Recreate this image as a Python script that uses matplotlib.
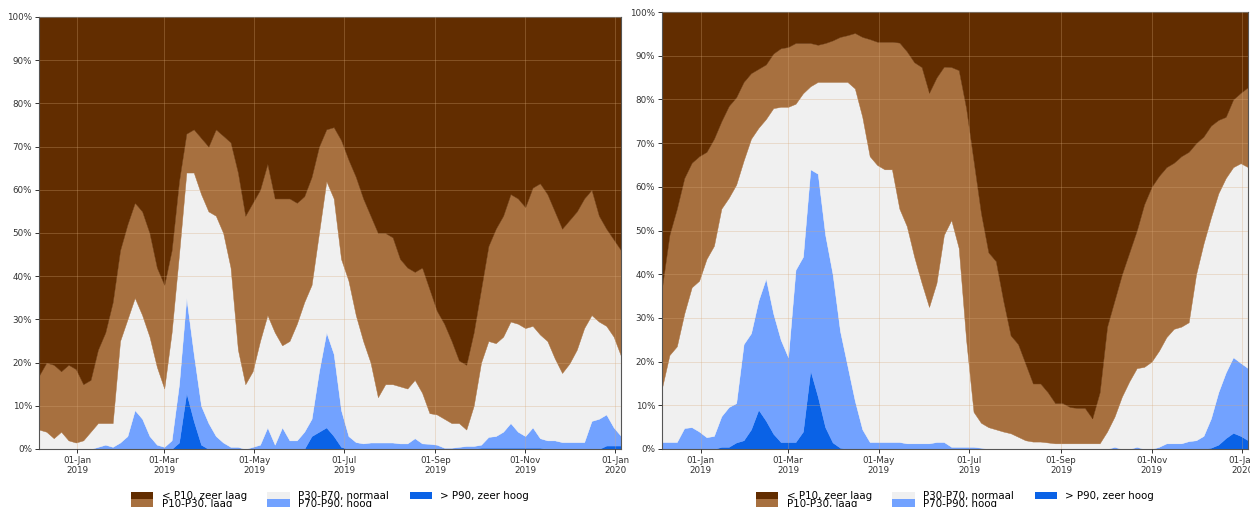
import numpy as np
import matplotlib
matplotlib.use("Agg")
import matplotlib.pyplot as plt
import matplotlib.dates as mdates
from matplotlib.patches import Patch

# ---- data: one sample every 5 days, 2018-12-06 .. 2020-01-05 ----
dates = np.arange(np.datetime64('2018-12-06'), np.datetime64('2020-01-07'), 5)

labels = ["< P10, zeer laag", "P10-P30, laag", "P30-P70, normaal", "P70-P90, hoog", "> P90, zeer hoog"]
colors = ["#622d00", "#a7703f", "#f0f0f0", "#72a2ff", "#0a62e6"]

# cumulative percentage tops (left panel)
left_p90 = [0]*19 + [1.5, 13, 6.5, 1] + [0]*14 + [3, 4, 5, 3, 0.5] + [0]*18 + [0.3]*9 + [0]*8 + [0.8]*3
left_p70 = [0, 0, 0, 0, 0, 0, 0, 0, 0.5, 1, 0.5, 1.5, 3, 9, 7, 3, 1, 0.5, 2, 15,
            35, 22, 10, 6, 3, 1.5, 0.5, 0.5, 0, 0.5, 1, 5, 1, 5, 2, 2, 4, 7, 18, 27,
            22, 9, 3, 1.6, 1.3, 1.5, 1.5, 1.5, 1.5, 1.3, 1.3, 2.5, 1.3, 1.2, 1, 0.3, 0.3, 0.5, 0.7, 0.7,
            1, 2.8, 3, 4, 6, 4, 3, 5, 2.5, 2, 2, 1.6, 1.6, 1.6, 1.6, 6.5, 7, 8, 5, 3]
left_p30 = [4.5, 4, 2.5, 4, 2, 1.5, 2, 4, 6, 6, 6, 25, 30, 35, 31, 26, 19, 14, 27, 45,
            64, 64, 59, 55, 54, 50, 42, 23, 15, 18, 25, 31, 27, 24, 25, 29, 34, 38, 50, 62,
            58, 44, 39, 31, 25, 20, 12, 15, 15, 14.5, 14, 16, 13, 8.3, 8, 7, 6, 6, 4.5, 10,
            20, 25, 24.5, 26, 29.5, 29, 28, 28.5, 26.5, 25, 21, 17.6, 19.8, 23, 28, 31, 29.5, 28.5, 26, 21.5]
left_p10 = [17, 20, 19.5, 18, 19.5, 18.5, 15, 16, 23, 27, 34, 46, 52, 57, 55, 50, 42, 38, 46, 62,
            73, 74, 72, 70, 74, 72.5, 71, 64, 54, 57, 60, 66, 58, 58, 58, 57, 58.5, 63, 70, 74,
            74.5, 71.5, 67, 63, 58, 54, 50, 50, 49, 44, 42, 41, 42, 37, 32, 29, 25, 20.5, 19.5, 27,
            37, 47, 51, 54, 59, 58, 56, 60.5, 61.5, 59, 55, 51, 53, 55, 58, 60, 54, 51, 48.5, 46]

# cumulative percentage tops (right panel)
right_p90 = [0]*8 + [0.5, 0.5, 1.5, 2, 4.5, 9, 6.5, 3.5, 1.6, 1.6, 1.6, 4, 18, 12, 5, 1.5, 0.3] \
            + [0]*49 + [0.3, 1, 2.5, 3.7, 3, 2]
right_p70 = [1.6, 1.6, 1.6, 4.8, 5, 4, 2.7, 3, 7.5, 9.6, 10.5, 24, 26.5, 34, 39, 31, 25, 21, 41, 44,
             64, 63, 49, 40, 27, 19, 11, 4.5, 1.6, 1.6, 1.6, 1.6, 1.6, 1.3, 1.3, 1.3, 1.3, 1.6, 1.6, 0.5,
             0.5, 0.5, 0.5, 0.3] + [0]*17 + [0.5, 0, 0, 0.5, 0, 0, 0.5, 1.3, 1.3, 1.3, 1.8, 2, 3, 7, 13,
             17.5, 21, 19.7, 18.5]
right_p30 = [14, 21.5, 23.5, 31, 37, 38.5, 43.5, 46.5, 55, 57.5, 60.5, 66, 71, 73.5, 75.5, 78, 78.3, 78.3, 79, 81.4,
             83, 84, 84, 84, 84, 84, 82.5, 76, 67, 65, 64, 64, 55, 51, 44, 38, 32.5, 38, 49, 52.4,
             46, 25, 8.5, 6, 5, 4.5, 4, 3.6, 2.8, 2, 1.7, 1.7, 1.5, 1.3, 1.3, 1.3, 1.3, 1.3, 1.3, 1.3,
             4, 7.4, 12, 15.5, 18.5, 18.8, 20, 22.5, 25.6, 27.5, 28, 29, 40, 47, 53, 58.5, 62, 64.5, 65.4, 64.5]
right_p10 = [37, 49, 55, 62, 65.5, 67, 68, 71, 75, 78.5, 80.5, 84, 86, 87, 88, 90.5, 91.7, 92, 92.9, 92.9,
             92.9, 92.5, 92.9, 93.5, 94.3, 94.7, 95.2, 94.3, 93.8, 93.2, 93.2, 93.2, 93, 91, 88.5, 87.4, 81.5, 85, 87.5, 87.4,
             86.7, 78, 66, 54, 45, 43, 34, 26, 24, 19.5, 15, 15, 13, 10.5, 10.5, 9.6, 9.4, 9.4, 7, 13,
             28, 34, 40, 45, 50, 56, 60, 62.5, 64.5, 65.5, 67, 68, 70, 71.5, 74, 75.3, 76, 80, 81.5, 82.8]

yticks = list(range(0, 101, 10))

# ---- figure ----
W, H = 1250, 507
fig = plt.figure(figsize=(W / 100, H / 100), dpi=100)
plt.rcParams['font.family'] = ['DejaVu Sans']

ax_left = fig.add_axes([39 / W, 1 - 449 / H, (621 - 39) / W, (449 - 17) / H])
ax_right = fig.add_axes([662 / W, 1 - 449 / H, (1248 - 662) / W, (449 - 12) / H])

xnum = mdates.date2num(dates.astype('datetime64[s]').astype(object))


def draw(ax, p90, p70, p30, p10):
    p90, p70, p30, p10 = (np.asarray(a, dtype=float) for a in (p90, p70, p30, p10))
    top = np.full_like(p10, 100.0)
    layers = [(p90, np.zeros_like(p90), colors[4]),
              (p70, p90, colors[3]),
              (p30, p70, colors[2]),
              (p10, p30, colors[1]),
              (top, p10, colors[0])]
    for vals, base, c in layers:
        ax.fill_between(xnum, base, vals, color=c, lw=0.3, edgecolor=c)
    ax.set_xlim(xnum[0], xnum[-1])
    ax.set_ylim(0, 100)
    ax.set_yticks(yticks)
    ax.set_yticklabels([f"{v}%" for v in yticks])
    ax.xaxis.set_major_locator(mdates.MonthLocator(bymonth=[1, 3, 5, 7, 9, 11]))
    ax.xaxis.set_major_formatter(mdates.DateFormatter('%d-%b\n%Y'))
    ax.tick_params(labelsize=6.3, colors='#333333', length=3, width=0.7, pad=2)
    ax.set_axisbelow(False)
    ax.grid(True, color='#d8a878', alpha=0.35, lw=0.6)
    for s in ax.spines.values():
        s.set_color('#555555')
        s.set_linewidth(0.8)
    handles = [Patch(facecolor=c, edgecolor='none') for c in colors]
    cx = (ax.get_position().x0 + ax.get_position().x1) / 2
    fig.legend(handles, labels, loc='upper center', bbox_to_anchor=(cx, 1 - 486 / H),
               ncol=3, frameon=False, fontsize=7.4, handlelength=2.2, handleheight=0.7,
               handletextpad=0.8, columnspacing=2.0, labelspacing=-0.25, borderpad=0)


draw(ax_left, left_p90, left_p70, left_p30, left_p10)
draw(ax_right, right_p90, right_p70, right_p30, right_p10)

fig.savefig("out.png", dpi=100)
